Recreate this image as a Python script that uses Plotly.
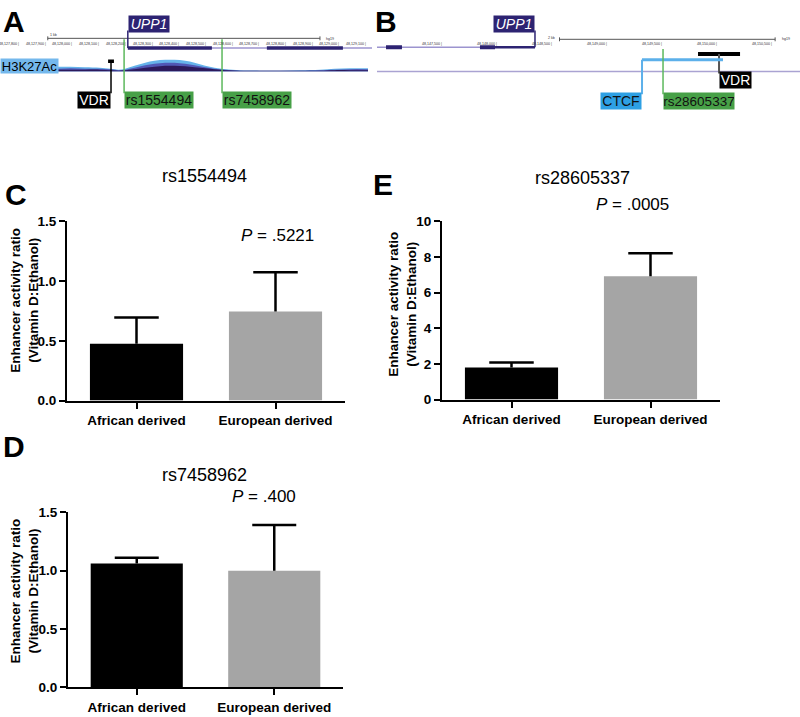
import plotly.graph_objects as go

W, H = 800, 717
FONT = "Liberation Sans, Arial, sans-serif"

# ------------------------------------------------------------------ data
CATEGORIES = ["African derived", "European derived"]
BAR_COLORS = ["#000000", "#a5a5a5"]

C_SNP = "rs1554494"
C_MEAN = [0.475, 0.745]
C_ERR = [0.22, 0.33]
C_P = ".5221"
C_YTICKS = [0.0, 0.5, 1.0, 1.5]
C_YTEXT = ["0.0", "0.5", "1.0", "1.5"]

D_SNP = "rs7458962"
D_MEAN = [1.06, 1.00]
D_ERR = [0.05, 0.39]
D_P = ".400"
D_YTICKS = [0.0, 0.5, 1.0, 1.5]
D_YTEXT = ["0.0", "0.5", "1.0", "1.5"]

E_SNP = "rs28605337"
E_MEAN = [1.8, 6.92]
E_ERR = [0.28, 1.3]
E_P = ".0005"
E_YTICKS = [0, 2, 4, 6, 8, 10]
E_YTEXT = ["0", "2", "4", "6", "8", "10"]

# Panel A genome view (chr7, hg19)
A_RANGE = [48127721, 48129115]
A_TICKS = [48127800, 48127900, 48128000, 48128100, 48128200, 48128300, 48128400,
           48128500, 48128600, 48128700, 48128800, 48128900, 48129000, 48129100]
A_TICKTEXT = ["48,127,800", "48,127,900", "48,128,000", "48,128,100", "48,128,200",
              "48,128,300", "48,128,400", "48,128,500", "48,128,600", "48,128,700",
              "48,128,800", "48,128,900", "48,129,000", "48,129,100"]
A_SCALE = [48127900, 48128920]
A_GENE = [48128200, 48129115]
A_EXONS = [[48128200, 48128515], [48128721, 48129006]]
A_VDR = [48128126, 48128148]
A_SNP_NAMES = ["rs1554494", "rs7458962"]
A_SNP_POS = [48128186, 48128553]
A_SIG_POS = [48127935, 48127985, 48128040, 48128095, 48128135, 48128165, 48128190,
             48128225, 48128265, 48128300, 48128340, 48128375, 48128415, 48128450,
             48128490, 48128525, 48128565, 48128620, 48128695, 48128770, 48128845,
             48128920, 48128975, 48129030, 48129100]
A_SIG_LIGHT = [5, 5, 4.5, 4, 3, 2, 3, 6, 9, 11, 12, 12, 11, 9, 6, 4, 2.5, 1.5, 1, 1,
               1.5, 2, 3, 3.5, 3.5]
A_SIG_MID = [3, 3.5, 3, 3, 2.5, 1.5, 2, 4, 6.5, 8, 9, 9, 8, 6.5, 4.5, 3, 2, 1, 0.8,
             0.8, 1, 1.5, 2, 2.5, 2.5]
A_SIG_DARK = [2, 2, 2, 2, 1.5, 1, 1.5, 2.5, 4, 5, 6, 6, 5.5, 4.5, 3.5, 2.5, 1.5, 1,
              0.8, 0.8, 0.8, 1, 1.5, 1.5, 1.5]

# Panel B genome view
B_RANGE = [48146891, 48150736]
B_TICKS = [48147500, 48148000, 48148500, 48149000, 48149500, 48150000, 48150500]
B_TICKTEXT = ["48,147,500", "48,148,000", "48,148,500", "48,149,000", "48,149,500",
              "48,150,000", "48,150,500"]
B_SCALE = [48148550, 48150510]
B_GENE_END = 48148327
B_EXONS = [[48146973, 48147118], [48147827, 48147964]]
B_UTR = [48147964, 48148327]
B_VDR = [48149809, 48150191]
B_VDR_LINK = 48150000
B_CTCF = [48149300, 48150036]
B_SNP_NAME = "rs28605337"
B_SNP_POS = 48149491

# ------------------------------------------------------------------ colours
NAVY = "#2d2372"
LAVENDER = "#9c94cf"
GREEN_BOX = "#47a047"
GREEN_LINE = "#5cb85c"
CTCF_BOX = "#2ea0e4"
CTCF_LINE = "#5cb0ea"
H3_BOX = "#74b8ec"

fig = go.Figure()
shapes = []
annotations = []


def px(v):
    return v / W


def py(v):
    return 1 - v / H


# ------------------------------------------------------------------ bar panels
def bar_panel(n, means, errs, yticks, ytext, x0, x1, ytop, ybot):
    xa = "x" if n == 1 else f"x{n}"
    ya = "y" if n == 1 else f"y{n}"
    fig.add_trace(go.Bar(x=[0, 1], y=means, marker=dict(color=BAR_COLORS, line=dict(width=0)),
                         width=0.67, xaxis=xa, yaxis=ya, hoverinfo="skip"))
    cap = 0.16
    for i, (m, e) in enumerate(zip(means, errs)):
        fig.add_trace(go.Scatter(x=[i, i, None, i - cap, i + cap],
                                 y=[m, m + e, None, m + e, m + e],
                                 mode="lines", line=dict(color="black", width=2.5),
                                 xaxis=xa, yaxis=ya, hoverinfo="skip"))
    axis_common = dict(showline=True, linewidth=2, linecolor="black", ticks="outside",
                       ticklen=6, tickwidth=2, tickcolor="black", showgrid=False,
                       zeroline=False, fixedrange=True,
                       tickfont=dict(family=FONT, size=13.5, color="black"))
    key = "" if n == 1 else str(n)
    fig.update_layout(**{
        f"xaxis{key}": dict(domain=[px(x0), px(x1)], anchor=ya, range=[-0.5, 1.5],
                            tickvals=[0, 1],
                            ticktext=[f"<b>{c}</b>" for c in CATEGORIES], **axis_common),
        f"yaxis{key}": dict(domain=[py(ybot), py(ytop)], anchor=xa,
                            range=[yticks[0], yticks[-1]], tickvals=yticks,
                            ticktext=[f"<b>{t}</b>" for t in ytext], **axis_common),
    })


bar_panel(1, C_MEAN, C_ERR, C_YTICKS, C_YTEXT, 67, 345, 219, 402)
bar_panel(2, D_MEAN, D_ERR, D_YTICKS, D_YTEXT, 68, 343, 516, 695)
bar_panel(3, E_MEAN, E_ERR, E_YTICKS, E_YTEXT, 442, 720, 219, 401)

YTITLE = "<b>Enhancer activity ratio<br>(Vitamin D:Ethanol)</b>"
for xc, yc in [(25, 300), (403, 304), (25, 597)]:
    annotations.append(dict(text=YTITLE, x=px(xc), y=py(yc), xref="paper", yref="paper",
                            showarrow=False, textangle=-90, xanchor="center",
                            yanchor="middle", font=dict(family=FONT, size=13.5, color="black")))

for txt, xc, yc in [(C_SNP, 204, 173), (E_SNP, 582, 175), (D_SNP, 204, 478)]:
    annotations.append(dict(text=txt, x=px(xc), y=py(yc), xref="paper", yref="paper",
                            showarrow=False, xanchor="center", yanchor="middle",
                            font=dict(family=FONT, size=18, color="black")))
for ptxt, xc, yc in [(C_P, 277, 233), (E_P, 632, 202), (D_P, 264, 500)]:
    annotations.append(dict(text=f"<i>P</i> = {ptxt}", x=px(xc), y=py(yc), xref="paper",
                            yref="paper", showarrow=False, xanchor="center",
                            yanchor="middle", font=dict(family=FONT, size=17, color="black")))

for lab, xc, yc in [("A", 14, 15), ("B", 386, 15), ("C", 16, 192), ("D", 14, 449),
                    ("E", 383, 181)]:
    annotations.append(dict(text=f"<b>{lab}</b>", x=px(xc), y=py(yc), xref="paper",
                            yref="paper", showarrow=False, xanchor="center",
                            yanchor="middle", font=dict(family=FONT, size=30, color="black")))

# ------------------------------------------------------------------ genome panels
track_axis = dict(visible=False, showgrid=False, zeroline=False, fixedrange=True)
fig.update_layout(
    xaxis5=dict(domain=[0, px(372)], range=A_RANGE, anchor="y5", **track_axis),
    yaxis5=dict(domain=[py(110), 1], range=[110, 0], anchor="x5", **track_axis),
    yaxis7=dict(domain=[py(66), py(50)], range=[0, 16], anchor="x5", **track_axis),
    xaxis6=dict(domain=[px(377), 1], range=B_RANGE, anchor="y6", **track_axis),
    yaxis6=dict(domain=[py(110), 1], range=[110, 0], anchor="x6", **track_axis),
)

# H3K27Ac signal layers
for vals, col in [(A_SIG_LIGHT, "#66b3ea"), (A_SIG_MID, "#5158b6"), (A_SIG_DARK, "#2c1a5c")]:
    fig.add_trace(go.Scatter(x=A_SIG_POS, y=vals, mode="lines", fill="tozeroy",
                             fillcolor=col, line=dict(width=0, color=col, shape="spline"),
                             xaxis="x5", yaxis="y7", hoverinfo="skip"))


def hline(xr, yr, x0, x1, y, color, width):
    shapes.append(dict(type="line", xref=xr, yref=yr, x0=x0, x1=x1, y0=y, y1=y,
                       line=dict(color=color, width=width)))


def vline(xr, yr, x, y0, y1, color, width):
    shapes.append(dict(type="line", xref=xr, yref=yr, x0=x, x1=x, y0=y0, y1=y1,
                       line=dict(color=color, width=width)))


def box(xr, yr, x, y, text, bg, fg, w, h, anchor, italic=False, size=13.5):
    t = f"<i>{text}</i>" if italic else text
    annotations.append(dict(text=t, x=x, y=y, xref=xr, yref=yr, showarrow=False,
                            xanchor=anchor, yanchor="middle", bgcolor=bg, width=w,
                            height=h, borderpad=0, align="center",
                            font=dict(family=FONT, size=size, color=fg)))


def tiny(xr, yr, x, y, text, anchor="right"):
    annotations.append(dict(text=text, x=x, y=y, xref=xr, yref=yr, showarrow=False,
                            xanchor=anchor, yanchor="middle",
                            font=dict(family=FONT, size=3.6, color="#333333")))


# ---- panel A
hline("x5", "y5", A_SCALE[0], A_SCALE[1], 32, "#555555", 1)
vline("x5", "y5", A_SCALE[0], 30, 34, "#555555", 1)
vline("x5", "y5", A_SCALE[1], 30, 34, "#555555", 1)
tiny("x5", "y5", A_SCALE[0], 29, "1 kb", "left")
tiny("x5", "y5", A_SCALE[1] + 15, 33, "hg19", "left")
for pos, lab in zip(A_TICKS, A_TICKTEXT):
    tiny("x5", "y5", pos, 38, lab + " |")
hline("x5", "y5", A_GENE[0], A_GENE[1], 42, LAVENDER, 1.5)
for e0, e1 in A_EXONS:
    hline("x5", "y5", e0, e1, 42, NAVY, 3.5)
vline("x5", "y5", A_GENE[0], 24, 42, NAVY, 1.5)
box("x5", "y5", A_GENE[0], 17, "UPP1", NAVY, "white", 40, 16, "left", italic=True, size=14)
box("paper", "y5", 0, 60, "H3K27Ac", H3_BOX, "black", 57, 14, "left", size=13)

hline("x5", "y5", A_VDR[0], A_VDR[1], 55.5, "black", 3.5)
vline("x5", "y5", (A_VDR[0] + A_VDR[1]) / 2, 55, 88, "black", 1.5)
box("x5", "y5", (A_VDR[0] + A_VDR[1]) / 2, 95, "VDR", "black", "white", 32, 16, "right", size=14)
for name, pos in zip(A_SNP_NAMES, A_SNP_POS):
    vline("x5", "y5", pos, 33, 88, GREEN_LINE, 1.5)
    box("x5", "y5", pos, 95, name, GREEN_BOX, "#111111", 68, 16, "left", size=14)

# ---- panel B
fig.add_trace(go.Scatter(x=B_RANGE, y=[66, 66], mode="lines",
                         line=dict(color="#aaa3d2", width=1.5),
                         xaxis="x6", yaxis="y6", hoverinfo="skip"))
hline("x6", "y6", B_RANGE[0], B_GENE_END, 41, LAVENDER, 1.5)
for e0, e1 in B_EXONS:
    hline("x6", "y6", e0, e1, 41, NAVY, 4)
hline("x6", "y6", B_UTR[0], B_UTR[1], 41, NAVY, 2.5)
vline("x6", "y6", B_GENE_END, 24, 41, NAVY, 1.5)
box("x6", "y6", B_GENE_END, 17, "UPP1", NAVY, "white", 40, 16, "right", italic=True, size=14)

hline("x6", "y6", B_SCALE[0], B_SCALE[1], 33, "#555555", 1)
vline("x6", "y6", B_SCALE[0], 31, 35, "#555555", 1)
vline("x6", "y6", B_SCALE[1], 31, 35, "#555555", 1)
tiny("x6", "y6", B_SCALE[0] - 20, 32, "2 kb")
tiny("x6", "y6", B_SCALE[1] + 40, 33, "hg19", "left")
for pos, lab in zip(B_TICKS, B_TICKTEXT):
    tiny("x6", "y6", pos, 38, lab + " |")

hline("x6", "y6", B_VDR[0], B_VDR[1], 48, "black", 4)
vline("x6", "y6", B_VDR_LINK, 48, 68, "#555555", 2)
box("x6", "y6", B_VDR_LINK, 75, "VDR", "black", "white", 31, 16, "left", size=14)

hline("x6", "y6", B_CTCF[0], B_CTCF[1], 54, CTCF_LINE, 3)
vline("x6", "y6", B_CTCF[0], 54, 89, CTCF_LINE, 2)
box("x6", "y6", B_CTCF[0], 96, "CTCF", CTCF_BOX, "#111111", 40, 16, "right", size=14)

vline("x6", "y6", B_SNP_POS, 43, 89, GREEN_LINE, 1.5)
box("x6", "y6", B_SNP_POS, 96, B_SNP_NAME, GREEN_BOX, "#111111", 70, 16, "left", size=13.5)

fig.update_layout(width=W, height=H, margin=dict(l=0, r=0, t=0, b=0),
                  paper_bgcolor="white", plot_bgcolor="white", showlegend=False,
                  shapes=shapes, annotations=annotations,
                  font=dict(family=FONT, color="black"))

fig.write_html("out.html", config={"displayModeBar": False},
               post_script="document.body.style.margin='0';document.body.style.overflow='hidden';")
